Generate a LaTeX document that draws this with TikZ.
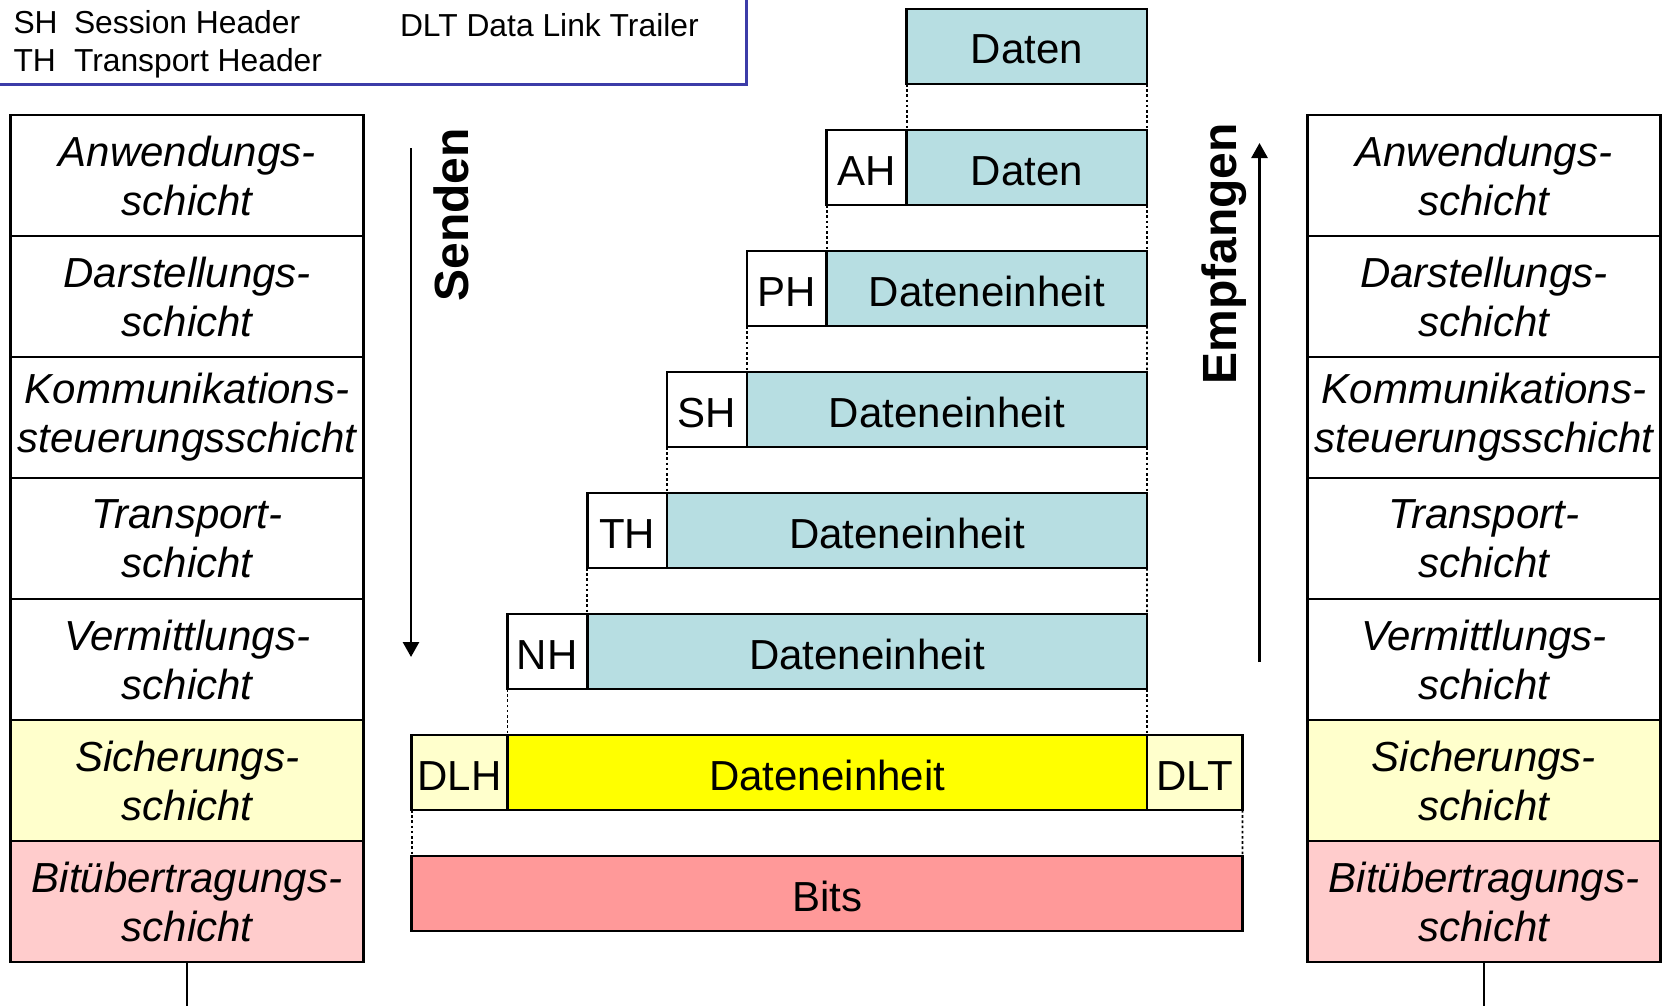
\documentclass[tikz,border=0pt]{standalone}
\usepackage{fontspec}
\setmainfont{Liberation Sans}
\usetikzlibrary{arrows.meta}
\definecolor{pdublue}{RGB}{183,222,226}
\definecolor{pduyellow}{RGB}{255,255,0}
\definecolor{lightyellow}{RGB}{255,255,204}
\definecolor{lightpink}{RGB}{255,204,204}
\definecolor{bitspink}{RGB}{255,153,153}
\definecolor{legendblue}{RGB}{60,60,168}
\begin{document}
\begin{tikzpicture}[x=0.5pt,y=-0.5pt,
  every node/.style={outer sep=0pt, inner sep=0pt},
  layer/.style={draw, line width=1.3pt, minimum width=176.5pt, minimum height=60.5pt,
    anchor=north west, align=center, font=\fontsize{21}{24.5}\selectfont\itshape},
  pdu/.style={draw, line width=1.3pt, minimum height=37.5pt, anchor=north west,
    text height=17.5pt, text depth=0pt, font=\fontsize{21}{24}\selectfont},
  hdr/.style={pdu, fill=white, minimum width=39.9pt},
  data/.style={pdu, fill=pdublue},
  dots/.style={line width=0.9pt, dash pattern=on 1.3pt off 1.3pt},
  legend/.style={anchor=base west, font=\fontsize{15.9}{18}\selectfont},
  dirlabel/.style={rotate=90, anchor=base, font=\fontsize{24}{24}\selectfont\bfseries},
  dirarrow/.style={line width=1.4pt, -{Triangle[width=8pt,length=7.5pt]}},
  stem/.style={line width=1.3pt}
]
\useasboundingbox (0,0) rectangle (1668,1006);

% legend
\draw[legendblue, line width=1.5pt] (746.7,-10) -- (746.7,84.3) -- (-10,84.3);
\node[legend] (lsh)  at (13.5,34) {SH};
\node[legend] (lsht) at (74,34) {Session Header};
\node[legend] (lth)  at (13.5,72) {TH};
\node[legend] (ltht) at (74,72) {Transport Header};
\node[legend] (ldlt) at (400,37) {DLT Data Link Trailer};

% left stack
\node[layer] (l1) at (10.6,115) {Anwendungs-\\schicht};
\node[layer] (l2) at (10.6,236) {Darstellungs-\\schicht};
\node[layer] (l3) at (10.6,357) {Kommunikations-\\steuerungsschicht};
\node[layer] (l4) at (10.6,478) {Transport-\\schicht};
\node[layer] (l5) at (10.6,599) {Vermittlungs-\\schicht};
\node[layer, fill=lightyellow] (l6) at (10.6,720) {Sicherungs-\\schicht};
\node[layer, fill=lightpink] (l7) at (10.6,841) {Bitübertragungs-\\schicht};
\coordinate (lbot) at (187,1006);
\draw[stem] (l7.south) -- (l7.south |- lbot);

% right stack
\node[layer] (r1) at (1307.4,115) {Anwendungs-\\schicht};
\node[layer] (r2) at (1307.4,236) {Darstellungs-\\schicht};
\node[layer] (r3) at (1307.4,357) {Kommunikations-\\steuerungsschicht};
\node[layer] (r4) at (1307.4,478) {Transport-\\schicht};
\node[layer] (r5) at (1307.4,599) {Vermittlungs-\\schicht};
\node[layer, fill=lightyellow] (r6) at (1307.4,720) {Sicherungs-\\schicht};
\node[layer, fill=lightpink] (r7) at (1307.4,841) {Bitübertragungs-\\schicht};
\coordinate (rbot) at (1484,1006);
\draw[stem] (r7.south) -- (r7.south |- rbot);

% PDUs
\node[data, minimum width=120.15pt] (d0) at (906.7,9) {Daten};
\node[hdr] (h1) at (826.7,130) {AH};
\node[data, minimum width=120.15pt] (d1) at (906.7,130) {Daten};
\node[hdr] (h2) at (746.8,251) {PH};
\node[data, minimum width=160.15pt] (d2) at (826.7,251) {Dateneinheit};
\node[hdr] (h3) at (667,372) {SH};
\node[data, minimum width=200.1pt] (d3) at (746.8,372) {Dateneinheit};
\node[hdr] (h4) at (587.2,493) {TH};
\node[data, minimum width=240pt] (d4) at (667,493) {Dateneinheit};
\node[hdr] (h5) at (507.4,614) {NH};
\node[data, minimum width=279.9pt] (d5) at (587.2,614) {Dateneinheit};
\node[pdu, fill=lightyellow, minimum width=47.85pt] (dlh) at (411.7,735) {DLH};
\node[pdu, fill=pduyellow, minimum width=319.8pt] (d6) at (507.4,735) {Dateneinheit};
\node[pdu, fill=lightyellow, minimum width=47.75pt] (dlt) at (1147,735) {DLT};
\node[pdu, fill=bitspink, minimum width=415.4pt] (bits) at (411.7,856) {Bits};

% dotted guides
\draw[dots] (d0.south west) -- (d1.north west);
\draw[dots] (d0.south east) -- (d1.north east);
\draw[dots] (h1.south west) -- (d2.north west);
\draw[dots] (d1.south east) -- (d2.north east);
\draw[dots] (h2.south west) -- (d3.north west);
\draw[dots] (d2.south east) -- (d3.north east);
\draw[dots] (h3.south west) -- (d4.north west);
\draw[dots] (d3.south east) -- (d4.north east);
\draw[dots] (h4.south west) -- (d5.north west);
\draw[dots] (d4.south east) -- (d5.north east);
\draw[dots] (h5.south west) -- (d6.north west);
\draw[dots] (d5.south east) -- (d6.north east);
\draw[dots] (dlh.south west) -- (bits.north west);
\draw[dots] (dlt.south east) -- (bits.north east);

% direction labels and arrows
\node[dirlabel] (send) at (468,215) {Senden};
\coordinate (sendtop) at (411,148);
\coordinate (sendbot) at (411,657);
\draw[dirarrow] (sendtop) -- (sendbot);
\node[dirlabel] (recv) at (1236,254) {Empfangen};
\coordinate (recvbot) at (1259.5,662);
\coordinate (recvtop) at (1259.5,143);
\draw[dirarrow] (recvbot) -- (recvtop);
\end{tikzpicture}
\end{document}
